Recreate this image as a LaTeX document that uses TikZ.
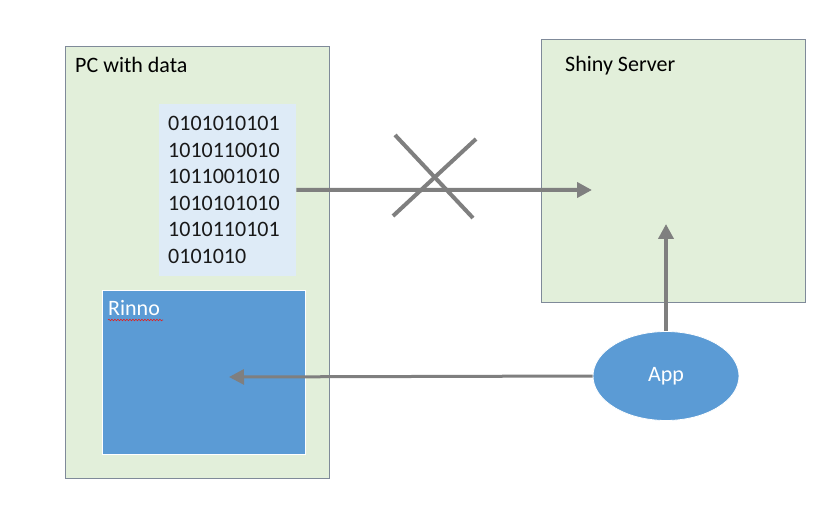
\documentclass[tikz,border=0pt]{standalone}
\usepackage{fontspec}
\setmainfont{Carlito}
\usetikzlibrary{arrows.meta,shapes.geometric,decorations.pathmorphing}

\definecolor{machinegreen}{HTML}{E2EFDA}
\definecolor{machineedge}{HTML}{7F8A99}
\definecolor{bitsblue}{HTML}{DEEBF7}
\definecolor{appblue}{HTML}{5B9BD5}
\definecolor{linkgray}{HTML}{7F7F7F}

\tikzset{
    machine/.style={draw=machineedge, line width=0.8pt, fill=machinegreen,
        anchor=north west, inner sep=0pt},
    caption/.style={font=\fontsize{22}{26}\selectfont, anchor=base west, inner sep=0pt},
    link/.style={draw=linkgray, line width=4pt, -{Triangle[length=15pt,width=15pt]}}
}

\begin{document}
\begin{tikzpicture}[x=1pt,y=-1pt]
    \useasboundingbox (0,0) rectangle (838,513);
    \node[machine, minimum width=264pt, minimum height=432pt] (pc) at (65,46) {};
    \node[machine, minimum width=264pt, minimum height=263pt] (shiny) at (541,39) {};
    \node[caption] (pclabel) at (75,73) {PC with data};
    \node[caption] (shinylabel) at (565,72) {Shiny Server};
    \node[fill=bitsblue, anchor=north west, inner xsep=9pt, inner ysep=12pt,
        text width=119pt, minimum height=171pt, align=left,
        font=\fontsize{22}{26.6}\selectfont, text=black!90] (bits) at (159,104)
        {0101010101\\1010110010\\1011001010\\1010101010\\1010110101\\0101010};
    \node[draw=white, line width=0.8pt, fill=appblue, anchor=north west,
        minimum width=203pt, minimum height=164pt] (rinno) at (102,290) {};
    \node[caption, text=white] (rinnolabel) at (108,315) {Rinno};
    \draw[red!70!gray, line width=0.6pt, decorate,
        decoration={snake, amplitude=0.8pt, segment length=3pt}]
        (rinnolabel.base west) ++(0,5) -- ++(55,0);
    \node[ellipse, draw=white, line width=0.8pt, fill=appblue, text=white,
        minimum width=146pt, minimum height=89pt,
        font=\fontsize{22}{26}\selectfont] (app) at (666,376) {App};
    \coordinate (shinyin) at (592,190);
    \coordinate (shinyup) at (666,224);
    \coordinate (rinnoin) at (229,377);
    \draw[link] (bits.east) -- (shinyin);
    \draw[link] (app.north) -- (shinyup);
    \draw[link, line width=3pt] (app.west) -- (rinnoin);
    % blocked transfer
    \draw[linkgray, line width=4pt] (395,135) -- (473,218);
    \draw[linkgray, line width=4pt] (476,139) -- (393,216);
\end{tikzpicture}
\end{document}
